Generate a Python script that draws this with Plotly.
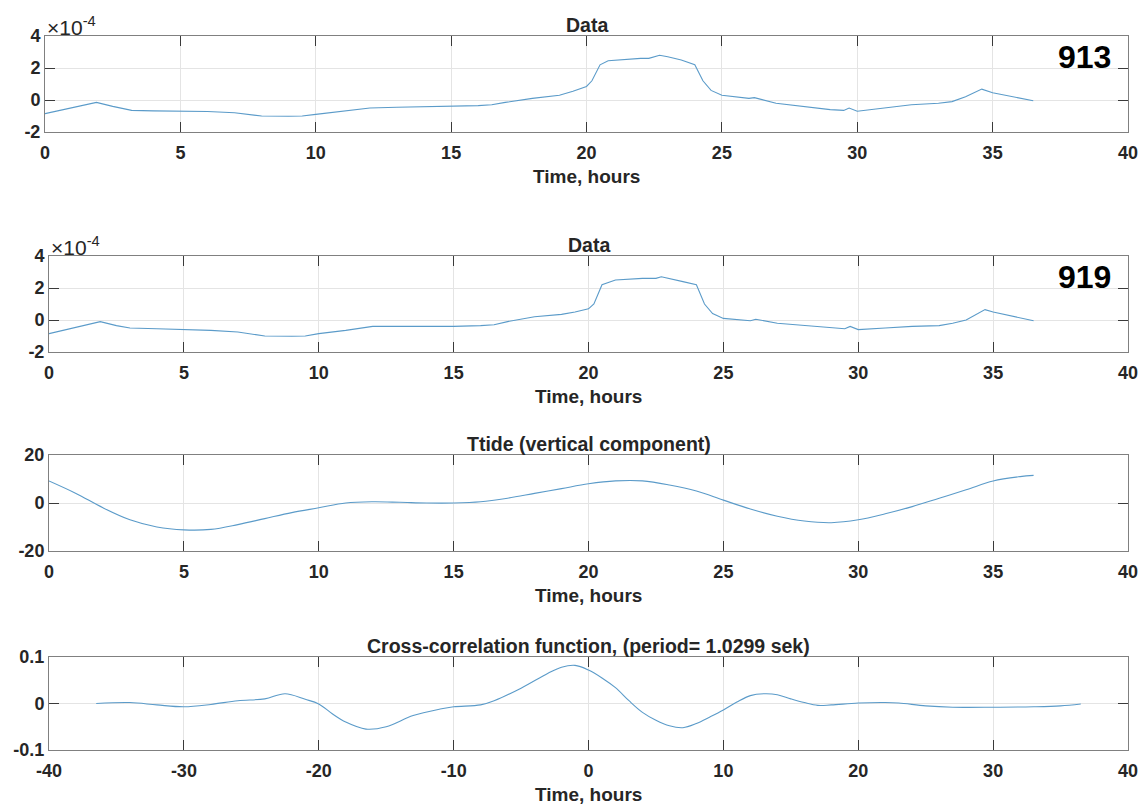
import plotly.graph_objects as go
import numpy as np

W, H = 1146, 804

# ---------------- data ----------------
# Panel 1: station 913 (values in units of 1e-4)
t913 = [0, 1, 1.9, 2.5, 3.2, 4, 5, 6, 7, 8, 9, 9.5, 10, 11, 12, 13, 14, 15, 16, 16.5,
        17, 18, 19, 19.5, 20, 20.2, 20.5, 20.8, 21.5, 22, 22.3, 22.7, 23, 23.5, 24,
        24.3, 24.6, 25, 26, 26.2, 27, 28, 29, 29.5, 29.7, 30, 31, 32, 33, 33.5, 34,
        34.6, 35, 36.5]
v913 = [-0.85, -0.5, -0.15, -0.4, -0.65, -0.68, -0.7, -0.72, -0.8, -1.0, -1.02, -1.0,
        -0.9, -0.7, -0.5, -0.45, -0.42, -0.4, -0.35, -0.3, -0.15, 0.1, 0.3, 0.55, 0.85,
        1.2, 2.2, 2.45, 2.55, 2.6, 2.6, 2.8, 2.7, 2.5, 2.2, 1.2, 0.6, 0.3, 0.1, 0.15,
        -0.2, -0.4, -0.6, -0.65, -0.5, -0.7, -0.5, -0.3, -0.2, -0.1, 0.2, 0.68, 0.45, -0.05]

# Panel 2: station 919 (values in units of 1e-4)
t919 = [0, 1, 1.9, 2.5, 3, 4, 5, 6, 7, 8, 9, 9.5, 10, 11, 12, 13, 14, 15, 16, 16.5,
        17, 18, 19, 19.5, 20, 20.2, 20.5, 21, 22, 22.5, 22.7, 23, 23.5, 24, 24.3, 24.6,
        25, 26, 26.2, 27, 28, 29, 29.5, 29.7, 30, 31, 32, 33, 33.5, 34, 34.7, 35, 36.5]
v919 = [-0.85, -0.45, -0.1, -0.35, -0.5, -0.55, -0.6, -0.65, -0.75, -1.0, -1.02, -1.0,
        -0.85, -0.65, -0.4, -0.4, -0.42, -0.4, -0.35, -0.3, -0.1, 0.2, 0.35, 0.5, 0.7,
        1.0, 2.2, 2.5, 2.6, 2.6, 2.7, 2.6, 2.4, 2.2, 1.0, 0.4, 0.1, -0.05, 0.05, -0.2,
        -0.35, -0.5, -0.55, -0.4, -0.6, -0.5, -0.4, -0.35, -0.2, 0.0, 0.65, 0.5, -0.05]

# Panel 3: Ttide (vertical component)
t_tide = [0, 1, 2, 3, 4, 5, 6, 7, 8, 9, 10, 11, 12, 13, 14, 15, 16, 17, 18, 19, 20,
          21, 22, 23, 24, 25, 26, 27, 28, 29, 30, 31, 32, 33, 34, 35, 36, 36.5]
v_tide = [9.2, 4, -2, -7, -10, -11.2, -11, -9, -6.5, -4, -2, 0, 0.5, 0.3, 0, 0, 0.5,
          2, 4, 6, 8, 9.2, 9.2, 7.5, 5, 1.2, -2.5, -5.5, -7.5, -8.2, -7, -4.5, -1.5,
          2, 5.5, 9.2, 11, 11.5]

# Panel 4: cross-correlation function
t_cc = [-36.5, -34, -32, -30, -28, -26, -24, -22.5, -21, -20, -19, -18, -16.5, -15,
        -13, -11, -10, -8, -7, -5, -3, -2, -1, 0, 1, 2, 3, 4, 5, 6, 7, 8, 9, 10, 11,
        12, 13, 14, 15, 16, 17, 18, 20, 22, 23, 25, 27, 30, 33, 35, 36.5]
v_cc = [0.0, 0.002, -0.003, -0.007, -0.002, 0.006, 0.01, 0.021, 0.009, -0.001, -0.022,
        -0.04, -0.055, -0.05, -0.026, -0.012, -0.007, -0.003, 0.006, 0.033, 0.065,
        0.078, 0.082, 0.072, 0.055, 0.034, 0.006, -0.019, -0.036, -0.048, -0.052,
        -0.043, -0.029, -0.014, 0.003, 0.017, 0.021, 0.019, 0.01, 0.002, -0.004,
        -0.003, 0.001, 0.002, 0.001, -0.005, -0.008, -0.008, -0.007, -0.005, -0.001]

titles = ["Data", "Data", "Ttide (vertical component)",
          "Cross-correlation function, (period= 1.0299 sek)"]
xlabel = "Time, hours"
labels = ["913", "919"]

x_ticks_time = [0, 5, 10, 15, 20, 25, 30, 35, 40]
x_ticks_lag = [-40, -30, -20, -10, 0, 10, 20, 30, 40]
y_ticks_data = [-2e-4, 0, 2e-4, 4e-4]
y_ticks_tide = [-20, 0, 20]
y_ticks_cc = [-0.1, 0, 0.1]

# ---------------- styling / layout ----------------
LINE = "#5b9bc9"
FONT = "Liberation Sans"
TXT = "#262626"

# pixel boxes (left, right, top, bottom)
boxes = [(45, 1128, 36, 132), (49, 1128, 256, 352), (49, 1128, 455, 551), (49, 1128, 657, 750)]


def xd(l, r):
    return [l / W, r / W]


def yd(t, b):
    return [1 - b / H, 1 - t / H]


def lab(v, scale=1.0):
    return [f"{a / scale:g}" for a in v]


fig = go.Figure()
series = [
    (t913, np.array(v913) * 1e-4, "linear"),
    (t919, np.array(v919) * 1e-4, "linear"),
    (t_tide, v_tide, "spline"),
    (t_cc, v_cc, "spline"),
]
for i, (x, y, shp) in enumerate(series):
    fig.add_trace(go.Scatter(x=x, y=y, mode="lines", xaxis=f"x{i+1}", yaxis=f"y{i+1}",
                             line=dict(color=LINE, width=1.1, shape=shp), showlegend=False,
                             hoverinfo="skip"))

yranges = [[-2e-4, 4e-4], [-2e-4, 4e-4], [-20, 20], [-0.1, 0.1]]
ytickv = [y_ticks_data, y_ticks_data, y_ticks_tide, y_ticks_cc]
ytickt = [lab(y_ticks_data, 1e-4), lab(y_ticks_data, 1e-4), lab(y_ticks_tide), lab(y_ticks_cc)]
xranges = [[0, 40], [0, 40], [0, 40], [-40, 40]]
xtickv = [x_ticks_time, x_ticks_time, x_ticks_time, x_ticks_lag]

tickfont = dict(family=FONT, size=18, color=TXT, weight="bold")
axcommon = dict(showline=True, linecolor="#808080", linewidth=1, mirror="allticks",
                ticks="inside", ticklen=10, tickcolor="#3a3a3a", tickwidth=1,
                showgrid=True, gridcolor="#e4e4e4", gridwidth=1, zeroline=False,
                tickfont=tickfont, fixedrange=True, automargin=False)

layout = dict(width=W, height=H, margin=dict(l=0, r=0, t=0, b=0, pad=0, autoexpand=False),
              paper_bgcolor="white", plot_bgcolor="white", showlegend=False)
annotations = []
for i, (l, r, t, b) in enumerate(boxes):
    n = i + 1
    layout[f"xaxis{n}"] = dict(domain=xd(l, r), anchor=f"y{n}", range=xranges[i],
                               tickvals=xtickv[i], ticktext=lab(xtickv[i]),
                               ticklabelstandoff=4, **axcommon)
    layout[f"yaxis{n}"] = dict(domain=yd(t, b), anchor=f"x{n}", range=yranges[i],
                               tickvals=ytickv[i], ticktext=ytickt[i], **axcommon)
    # title
    annotations.append(dict(text=titles[i], x=(l + r) / 2 / W, y=1 - (t - 11) / H,
                            xref="paper", yref="paper", xanchor="center", yanchor="middle",
                            showarrow=False, font=dict(family=FONT, size=19.5, color=TXT, weight="bold")))
    # x label
    annotations.append(dict(text=xlabel, x=(l + r) / 2 / W, y=1 - (b + 44) / H,
                            xref="paper", yref="paper", xanchor="center", yanchor="middle",
                            showarrow=False, font=dict(family=FONT, size=19, color=TXT, weight="bold")))

for i in range(2):
    l, r, t, b = boxes[i]
    annotations.append(dict(text="\u00d710<sup>-4</sup>", x=(l + 0) / W, y=1 - (t - 10) / H,
                            xref="paper", yref="paper", xanchor="left", yanchor="middle",
                            showarrow=False, font=dict(family=FONT, size=21, color=TXT)))
    annotations.append(dict(text=labels[i], x=(r - 15) / W, y=1 - (t + 21) / H,
                            xref="paper", yref="paper", xanchor="right", yanchor="middle",
                            showarrow=False, font=dict(family=FONT, size=32, color="black", weight="bold")))

layout["annotations"] = annotations
fig.update_layout(**layout)
fig.write_html("out.html",
               post_script="document.body.style.margin='0';document.body.style.overflow='hidden';")
